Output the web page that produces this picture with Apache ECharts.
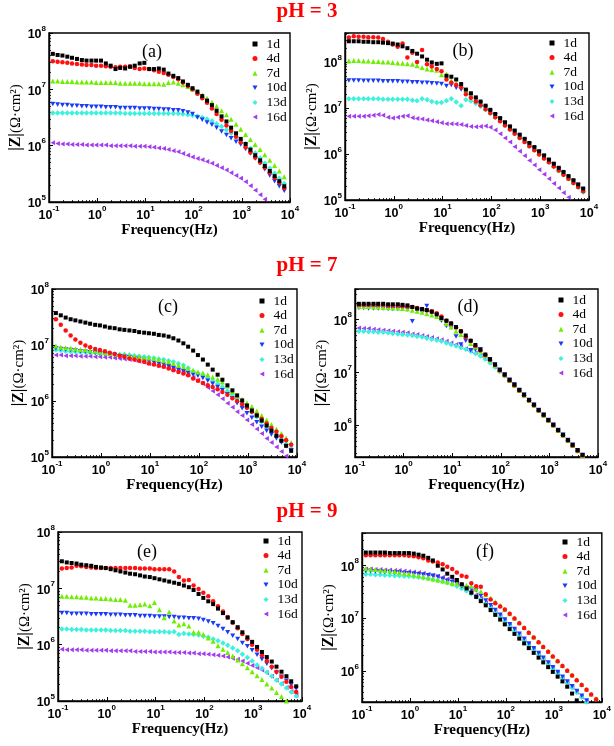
<!DOCTYPE html>
<html>
<head>
<meta charset="utf-8">
<script src="https://cdn.jsdelivr.net/npm/echarts@6/dist/echarts.min.js"></script>
<style>html,body{margin:0;padding:0;background:#fff}#c{width:614px;height:746px}</style>
</head>
<body>
<div id="c"></div>
<script>
// Frequency (Hz), 10 points per decade
const freq = [0.12,0.151,0.19,0.24,0.30,0.38,0.48,0.60,0.76,0.95,1.2,1.51,1.9,2.4,3.0,3.8,4.8,6.0,7.6,9.5,12,15.1,19,24,30,38,48,60,76,95,120,151,190,240,300,380,480,600,760,950,1200,1510,1900,2400,3000,3800,4800,6000,7600];
const seriesNames = ['1d','4d','7d','10d','13d','16d'];
const titles = ['pH = 3','pH = 7','pH = 9'];
const panelLabels = ['(a)','(b)','(c)','(d)','(e)','(f)'];

// log10 |Z| (Ω·cm²)
// (a) pH 3
const a1 = [7.63,7.61,7.60,7.58,7.56,7.54,7.52,7.51,7.51,7.51, 7.51,7.46,7.42,7.36,7.38,7.37,7.40,7.42,7.46,7.47, 7.36,7.36,7.37,7.35,7.28,7.24,7.20,7.14,7.08,7.02, 6.96,6.88,6.80,6.72,6.62,6.52,6.43,6.32,6.22,6.12, 6.03,5.93,5.83,5.74,5.64,5.55,5.46,5.37,5.28];
const a4 = [7.50,7.49,7.48,7.47,7.46,7.45,7.44,7.43,7.43,7.42, 7.42,7.41,7.40,7.39,7.40,7.40,7.41,7.38,7.36,7.37, 7.36,7.34,7.31,7.29,7.26,7.22,7.18,7.12,7.06,7.00, 6.92,6.84,6.76,6.66,6.56,6.46,6.36,6.26,6.16,6.06, 5.97,5.88,5.79,5.70,5.61,5.52,5.43,5.34,5.25];
const a7 = [7.15,7.15,7.14,7.14,7.14,7.13,7.13,7.13,7.13,7.12, 7.12,7.12,7.12,7.12,7.11,7.11,7.11,7.11,7.11,7.10, 7.10,7.10,7.10,7.09,7.12,7.13,7.11,7.08,7.05,7.00, 6.95,6.90,6.84,6.77,6.70,6.62,6.55,6.47,6.38,6.29, 6.20,6.11,6.02,5.93,5.84,5.74,5.65,5.55,5.45];
const a10 = [6.74,6.73,6.72,6.72,6.71,6.71,6.70,6.70,6.69,6.69, 6.69,6.68,6.68,6.68,6.67,6.67,6.67,6.67,6.66,6.66, 6.66,6.65,6.65,6.64,6.64,6.63,6.63,6.61,6.59,6.56, 6.50,6.46,6.41,6.37,6.32,6.25,6.19,6.13,6.07,6.02, 5.94,5.86,5.77,5.69,5.58,5.47,5.37,5.28,5.20];
const a13 = [6.58,6.58,6.58,6.58,6.58,6.58,6.58,6.58,6.58,6.58, 6.58,6.58,6.58,6.58,6.58,6.57,6.57,6.57,6.57,6.57, 6.57,6.57,6.57,6.57,6.57,6.57,6.57,6.56,6.55,6.54, 6.52,6.50,6.47,6.44,6.39,6.34,6.28,6.22,6.16,6.10, 6.04,5.95,5.87,5.78,5.69,5.60,5.51,5.42,5.33];
const a16 = [6.05,6.04,6.03,6.03,6.02,6.02,6.02,6.01,6.01,6.01, 6.01,6.01,6.00,6.00,6.00,6.00,6.00,5.99,5.99,5.99, 5.98,5.97,5.96,5.95,5.93,5.91,5.89,5.86,5.83,5.80, 5.77,5.75,5.72,5.69,5.65,5.61,5.57,5.52,5.47,5.42, 5.36,5.29,5.21,5.13,5.05,4.97,4.89,4.81,4.73];
// (b) pH 3
const b1 = [8.45,8.45,8.45,8.44,8.44,8.43,8.43,8.42,8.41,8.40, 8.38,8.34,8.30,8.24,8.18,8.12,8.05,7.99,7.96,7.97, 7.70,7.68,7.62,7.52,7.40,7.32,7.23,7.14,7.05,6.96, 6.87,6.78,6.69,6.60,6.51,6.42,6.33,6.24,6.15,6.06, 5.97,5.88,5.79,5.70,5.61,5.52,5.43,5.34,5.25];
const b4 = [8.53,8.56,8.55,8.55,8.54,8.54,8.53,8.50,8.44,8.38, 8.33,8.40,8.10,8.20,8.00,8.26,7.95,7.90,7.85,7.80, 7.62,7.55,7.50,7.45,7.30,7.22,7.14,7.06,6.97,6.89, 6.80,6.71,6.62,6.53,6.44,6.35,6.26,6.17,6.08,5.99, 5.90,5.82,5.73,5.64,5.55,5.46,5.37,5.28,5.19];
const b7 = [8.02,8.03,8.03,8.02,8.02,8.01,8.01,8.00,8.00,7.99, 7.98,7.97,7.96,7.95,7.92,7.88,7.85,7.83,7.82,7.72, 7.74,7.60,7.54,7.47,7.38,7.27,7.18,7.10,7.01,6.92, 6.83,6.74,6.65,6.56,6.47,6.38,6.29,6.20,6.11,6.02, 5.93,5.84,5.75,5.66,5.57,5.48,5.39,5.30,5.21];
const b10 = [7.60,7.60,7.60,7.59,7.59,7.59,7.59,7.58,7.58,7.58, 7.58,7.57,7.57,7.56,7.56,7.55,7.55,7.54,7.53,7.52, 7.48,7.50,7.44,7.40,7.36,7.26,7.18,7.10,7.01,6.92, 6.84,6.75,6.66,6.57,6.48,6.39,6.30,6.21,6.12,6.03, 5.94,5.85,5.76,5.67,5.58,5.49,5.40,5.31,5.22];
const b13 = [7.20,7.20,7.20,7.20,7.20,7.20,7.20,7.19,7.19,7.19, 7.19,7.19,7.19,7.17,7.16,7.20,7.18,7.14,7.12,7.12, 7.16,7.20,7.13,7.05,7.18,7.15,7.10,7.03,6.96,6.88, 6.80,6.72,6.63,6.54,6.45,6.36,6.27,6.18,6.09,6.00, 5.91,5.82,5.73,5.64,5.55,5.46,5.37,5.27,5.17];
const b16 = [6.82,6.82,6.82,6.82,6.83,6.84,6.86,6.84,6.80,6.78, 6.80,6.82,6.83,6.79,6.77,6.76,6.74,6.72,6.70,6.68, 6.66,6.66,6.65,6.64,6.62,6.60,6.59,6.60,6.61,6.58, 6.52,6.44,6.35,6.26,6.16,6.06,5.96,5.86,5.76,5.66, 5.56,5.46,5.36,5.26,5.16,5.06,4.96,4.86,4.76];
// (c) pH 7
const c1 = [7.57,7.53,7.49,7.46,7.44,7.42,7.40,7.38,7.36,7.35, 7.33,7.31,7.30,7.28,7.27,7.26,7.25,7.23,7.22,7.21, 7.20,7.18,7.17,7.15,7.12,7.08,7.03,6.97,6.90,6.82, 6.74,6.65,6.56,6.47,6.38,6.28,6.19,6.10,6.01,5.92, 5.83,5.74,5.65,5.56,5.47,5.38,5.29,5.20,5.11];
const c4 = [7.46,7.36,7.26,7.17,7.10,7.04,6.99,6.96,6.93,6.91, 6.89,6.86,6.84,6.81,6.79,6.76,6.74,6.72,6.70,6.67, 6.65,6.63,6.61,6.58,6.55,6.52,6.49,6.46,6.40,6.36, 6.32,6.28,6.25,6.21,6.16,6.11,6.05,6.00,5.94,5.88, 5.81,5.75,5.68,5.60,5.52,5.45,5.37,5.30,5.22];
const c7 = [6.98,6.96,6.95,6.94,6.93,6.92,6.91,6.90,6.89,6.87, 6.86,6.85,6.84,6.83,6.82,6.81,6.80,6.79,6.78,6.77, 6.76,6.74,6.72,6.70,6.67,6.64,6.61,6.58,6.55,6.52, 6.50,6.47,6.43,6.39,6.34,6.27,6.17,6.10,6.03,5.97, 5.90,5.82,5.74,5.66,5.58,5.50,5.42,5.34,5.26];
const c10 = [6.94,6.93,6.92,6.91,6.90,6.89,6.88,6.87,6.86,6.85, 6.84,6.83,6.82,6.80,6.79,6.78,6.76,6.75,6.73,6.71, 6.69,6.67,6.65,6.62,6.59,6.56,6.53,6.50,6.47,6.45, 6.41,6.36,6.31,6.25,6.19,6.12,6.05,5.96,5.87,5.78, 5.70,5.62,5.54,5.47,5.40,5.33,5.26,5.19,5.12];
const c13 = [6.91,6.90,6.89,6.88,6.88,6.87,6.87,6.86,6.86,6.85, 6.85,6.84,6.84,6.83,6.83,6.82,6.81,6.80,6.79,6.78, 6.77,6.75,6.74,6.72,6.70,6.67,6.64,6.59,6.53,6.50, 6.46,6.41,6.36,6.31,6.25,6.18,6.11,6.04,5.96,5.88, 5.80,5.72,5.63,5.55,5.47,5.39,5.31,5.23,5.15];
const c16 = [6.82,6.82,6.81,6.81,6.81,6.80,6.80,6.80,6.79,6.79, 6.78,6.78,6.77,6.76,6.75,6.74,6.73,6.71,6.69,6.67, 6.66,6.64,6.62,6.60,6.57,6.55,6.52,6.47,6.42,6.37, 6.31,6.24,6.18,6.11,6.04,5.96,5.89,5.81,5.74,5.66, 5.58,5.50,5.42,5.33,5.26,5.18,5.10,5.02,4.94];
// (d) pH 7
const d1 = [8.30,8.30,8.30,8.30,8.30,8.30,8.29,8.29,8.29,8.28, 8.27,8.24,8.21,8.20,8.18,8.15,8.10,8.03,7.98,7.93, 7.86,7.78,7.70,7.60,7.52,7.43,7.34,7.25,7.15,7.05, 6.96,6.86,6.77,6.67,6.58,6.48,6.39,6.29,6.20,6.10, 6.01,5.91,5.82,5.72,5.63,5.53,5.44,5.34,5.25];
const d4 = [8.28,8.28,8.28,8.28,8.28,8.28,8.27,8.27,8.27,8.26, 8.25,8.24,8.22,8.20,8.18,8.16,8.12,8.06,7.98,7.92, 7.85,7.78,7.67,7.60,7.50,7.42,7.33,7.24,7.14,7.04, 6.95,6.85,6.76,6.66,6.57,6.47,6.38,6.28,6.19,6.09, 6.00,5.90,5.81,5.71,5.62,5.52,5.43,5.33,5.24];
const d7 = [8.25,8.25,8.25,8.24,8.24,8.23,8.23,8.22,8.22,8.21, 8.20,8.18,8.16,8.14,8.11,8.09,8.06,8.02,7.92,7.86, 7.78,7.72,7.68,7.55,7.48,7.40,7.32,7.23,7.14,7.04, 6.95,6.85,6.76,6.66,6.57,6.47,6.38,6.28,6.19,6.09, 6.00,5.90,5.81,5.71,5.62,5.52,5.43,5.33,5.24];
const d10 = [8.22,8.22,8.21,8.21,8.21,8.21,8.20,8.20,8.20,8.20, 8.19,7.97,8.17,8.14,8.26,8.13,8.08,7.98,7.88,7.85, 7.68,7.53,7.60,7.42,7.43,7.44,7.30,7.25,7.15,7.05, 6.96,6.86,6.77,6.67,6.58,6.48,6.39,6.29,6.20,6.10, 6.01,5.91,5.82,5.72,5.63,5.53,5.44,5.34,5.25];
const d13 = [7.78,7.78,7.77,7.77,7.76,7.76,7.75,7.74,7.73,7.72, 7.71,7.70,7.68,7.67,7.65,7.63,7.61,7.59,7.56,7.53, 7.50,7.47,7.44,7.40,7.36,7.31,7.25,7.18,7.10,7.02, 6.94,6.85,6.76,6.66,6.57,6.47,6.38,6.28,6.19,6.09, 6.00,5.90,5.81,5.71,5.62,5.52,5.43,5.33,5.24];
const d16 = [7.84,7.83,7.83,7.82,7.81,7.80,7.79,7.78,7.77,7.76, 7.75,7.73,7.72,7.70,7.68,7.66,7.64,7.62,7.59,7.56, 7.53,7.49,7.45,7.41,7.37,7.32,7.26,7.19,7.11,7.03, 6.94,6.85,6.76,6.66,6.57,6.47,6.38,6.28,6.19,6.09, 6.00,5.90,5.81,5.71,5.62,5.52,5.43,5.33,5.24];
// (e) pH 9
const e1 = [7.48,7.46,7.45,7.44,7.42,7.41,7.40,7.38,7.37,7.36, 7.34,7.32,7.30,7.28,7.26,7.25,7.23,7.21,7.20,7.18, 7.16,7.14,7.12,7.10,7.08,7.05,7.02,6.97,6.90,6.83, 6.77,6.72,6.64,6.56,6.48,6.40,6.31,6.22,6.13,6.05, 5.96,5.87,5.78,5.70,5.61,5.52,5.44,5.35,5.26];
const e4 = [7.35,7.36,7.37,7.40,7.39,7.38,7.37,7.36,7.36,7.36, 7.36,7.36,7.36,7.36,7.36,7.36,7.35,7.35,7.35,7.34, 7.34,7.34,7.34,7.30,7.20,7.14,7.15,7.05,6.99,6.92, 6.86,6.77,6.68,6.59,6.49,6.39,6.29,6.19,6.10,6.00, 5.91,5.81,5.71,5.61,5.52,5.43,5.34,5.25,5.16];
const e7 = [6.86,6.86,6.85,6.85,6.84,6.84,6.83,6.83,6.82,6.82, 6.81,6.80,6.80,6.79,6.70,6.70,6.71,6.72,6.69,6.75, 6.62,6.48,6.58,6.42,6.35,6.37,6.33,6.22,6.22,6.18, 6.12,6.06,5.98,5.92,5.86,5.80,5.73,5.66,5.59,5.52, 5.45,5.38,5.30,5.23,5.15,5.08,5.00,4.93,4.85];
const e10 = [6.56,6.56,6.55,6.55,6.55,6.55,6.54,6.54,6.54,6.54, 6.53,6.53,6.53,6.52,6.52,6.52,6.51,6.51,6.51,6.50, 6.50,6.50,6.49,6.49,6.48,6.48,6.47,6.47,6.46,6.44, 6.41,6.38,6.33,6.28,6.22,6.16,6.10,6.03,5.97,5.90, 5.82,5.74,5.66,5.58,5.50,5.43,5.36,5.29,5.22];
const e13 = [6.28,6.28,6.27,6.27,6.27,6.26,6.26,6.26,6.26,6.26, 6.25,6.25,6.25,6.25,6.24,6.24,6.24,6.24,6.23,6.23, 6.23,6.23,6.22,6.23,6.18,6.20,6.19,6.18,6.17,6.15, 6.13,6.10,6.07,6.03,5.99,5.94,5.89,5.83,5.77,5.71, 5.64,5.58,5.51,5.44,5.37,5.30,5.23,5.16,5.09];
const e16 = [5.92,5.91,5.91,5.91,5.91,5.90,5.90,5.90,5.90,5.90, 5.89,5.89,5.89,5.89,5.89,5.88,5.88,5.88,5.88,5.87, 5.87,5.87,5.87,5.86,5.86,5.86,5.85,5.85,5.84,5.84, 5.83,5.82,5.81,5.80,5.78,5.76,5.74,5.71,5.67,5.63, 5.59,5.55,5.50,5.44,5.37,5.31,5.24,5.17,5.10];
// (f) pH 9
const f1 = [8.24,8.24,8.24,8.24,8.24,8.23,8.23,8.23,8.23,8.23, 8.22,8.20,8.18,8.14,8.09,7.99,7.92,7.84,7.78,7.72, 7.64,7.56,7.48,7.40,7.32,7.24,7.15,7.06,6.97,6.88, 6.79,6.70,6.61,6.52,6.43,6.34,6.25,6.16,6.07,5.98, 5.89,5.80,5.70,5.57,5.44,5.34,5.24,5.14,5.04];
const f4 = [8.19,8.19,8.19,8.19,8.19,8.19,8.19,8.19,8.19,8.18, 8.17,8.15,8.13,8.09,8.07,8.05,8.02,7.97,7.93,7.86, 7.80,7.78,7.66,7.60,7.59,7.45,7.35,7.28,7.22,7.16, 7.08,6.99,6.90,6.81,6.72,6.63,6.54,6.45,6.36,6.27, 6.18,6.09,6.00,5.91,5.82,5.73,5.64,5.55,5.46];
const f7 = [7.94,7.93,7.92,7.91,7.90,7.89,7.88,7.86,7.85,7.84, 7.82,7.80,7.78,7.76,7.74,7.72,7.70,7.68,7.66,7.65, 7.64,7.62,7.60,7.55,7.50,7.44,7.38,7.31,7.24,7.16, 7.08,7.00,6.91,6.82,6.73,6.64,6.55,6.46,6.37,6.28, 6.19,6.10,6.01,5.92,5.83,5.74,5.65,5.56,5.47];
const f10 = [7.89,7.89,7.88,7.88,7.87,7.87,7.86,7.86,7.85,7.85, 7.84,7.83,7.82,7.81,7.80,7.78,7.74,7.70,7.68,7.66, 7.60,7.57,7.55,7.52,7.42,7.33,7.24,7.15,7.06,6.97, 6.88,6.79,6.70,6.61,6.52,6.43,6.34,6.25,6.16,6.07, 5.98,5.89,5.80,5.71,5.62,5.53,5.44,5.35,5.26];
const f13 = [7.83,7.83,7.82,7.82,7.81,7.81,7.80,7.80,7.79,7.79, 7.78,7.77,7.76,7.75,7.73,7.71,7.69,7.67,7.64,7.60, 7.56,7.51,7.46,7.40,7.34,7.27,7.19,7.11,7.02,6.94, 6.85,6.76,6.67,6.58,6.49,6.40,6.31,6.22,6.13,6.04, 5.95,5.86,5.77,5.68,5.59,5.50,5.41,5.32,5.23];
const f16 = [7.93,7.93,7.92,7.92,7.91,7.91,7.90,7.90,7.89,7.88, 7.87,7.86,7.85,7.83,7.81,7.79,7.77,7.74,7.71,7.67, 7.62,7.57,7.51,7.44,7.37,7.29,7.21,7.12,7.04,6.95, 6.86,6.77,6.68,6.59,6.50,6.41,6.32,6.23,6.14,6.05, 5.96,5.87,5.78,5.69,5.60,5.51,5.42,5.33,5.24];

const colors = ['#000000','#ff1010','#70ee00','#1a3cf8','#3cf2dc','#a33cf0'];
const symbols = ['rect','circle','triangle','path://M0,0 L10,0 L5,9 Z','diamond','path://M9,0 L9,10 L0,5 Z'];
const symSizes = [4,4.5,5,5,5.5,5];

const panels = [
  {data:[a1,a4,a7,a10,a13,a16], grid:[49,33,241,169], y:[5,8],    lab:[152,52], leg:[255,44], ng:18, xg:16},
  {data:[b1,b4,b7,b10,b13,b16], grid:[345,33,244,167], y:[5,8.63], lab:[463,51], leg:[552,43], ng:19, xg:18},
  {data:[c1,c4,c7,c10,c13,c16], grid:[52,289,245,168], y:[5,8],    lab:[168,307], leg:[262,301], ng:22, xg:21},
  {data:[d1,d4,d7,d10,d13,d16], grid:[355,289,243,168], y:[5.40,8.58], lab:[468,307], leg:[561,300], ng:19, xg:21},
  {data:[e1,e4,e7,e10,e13,e16], grid:[58,532,244,169], y:[5,8],    lab:[147,552], leg:[266,541], ng:23, xg:17},
  {data:[f1,f4,f7,f10,f13,f16], grid:[362,533,242,169], y:[5.41,8.61], lab:[485,552], leg:[565,542], ng:22, xg:16}
];

function powLabel(v){
  const l = Math.log10(v);
  const e = Math.round(l);
  if (Math.abs(l - e) > 1e-6) return '';
  return '{b|10}{s|' + e + '}';
}
const richLab = {
  b:{fontFamily:'Liberation Sans', fontWeight:'bold', fontSize:12.5, color:'#000', lineHeight:17, verticalAlign:'bottom'},
  s:{fontFamily:'Liberation Sans', fontWeight:'bold', fontSize:8, color:'#000', lineHeight:17, verticalAlign:'top'}
};

const grids=[], xAxes=[], yAxes=[], series=[], legends=[], graphics=[];
panels.forEach((p, k) => {
  grids.push({left:p.grid[0], top:p.grid[1], width:p.grid[2], height:p.grid[3], show:true, borderColor:'#000', borderWidth:1.4, backgroundColor:'rgba(0,0,0,0)'});
  const common = {
    gridIndex:k, type:'log', logBase:10,
    axisLine:{show:true, lineStyle:{color:'#000', width:1.4}},
    axisTick:{show:true, inside:true, length:4, lineStyle:{color:'#000', width:1}},
    minorTick:{show:true, splitNumber:9, length:2, lineStyle:{color:'#000', width:0.8}},
    splitLine:{show:false},
    axisLabel:{formatter:powLabel, rich:richLab, showMinLabel:true, showMaxLabel:true, hideOverlap:false}
  };
  xAxes.push(Object.assign({}, common, {
    min:0.1, max:1e4, position:'bottom',
    name:'Frequency(Hz)', nameLocation:'middle', nameGap:p.xg,
    nameTextStyle:{fontFamily:'Liberation Serif', fontWeight:'bold', fontSize:15, color:'#000', verticalAlign:'top'},
    axisLabel:Object.assign({}, common.axisLabel, {margin:3})
  }));
  yAxes.push(Object.assign({}, common, {
    min:Math.pow(10,p.y[0]), max:Math.pow(10,p.y[1]), position:'left',
    name:'{z||Z|}{n|(Ω·cm²)}', nameLocation:'middle', nameGap:p.ng, nameRotate:90,
    nameTextStyle:{rich:{
      z:{fontFamily:'Liberation Serif', fontWeight:'bold', fontSize:16, color:'#000'},
      n:{fontFamily:'Liberation Serif', fontSize:15, color:'#000'}
    }},
    axisLabel:Object.assign({}, common.axisLabel, {margin:3})
  }));
  seriesNames.forEach((nm, j) => {
    series.push({
      type:'scatter', name:nm, xAxisIndex:k, yAxisIndex:k, clip:true,
      symbol:symbols[j], symbolSize:symSizes[j], symbolKeepAspect:true,
      itemStyle:{color:colors[j], opacity:1},
      data: freq.map((f, i) => [f, Math.pow(10, p.data[j][i])]),
      z: 10 - j
    });
  });
  legends.push({
    data:seriesNames, orient:'vertical', left:p.leg[0]-2.5, top:p.leg[1]-7,
    itemWidth:5, itemHeight:5, itemGap:0.6, padding:0,
    textStyle:{fontFamily:'Liberation Serif', fontSize:13.5, color:'#000', lineHeight:14, padding:[0,0,0,4]},
    selectedMode:false
  });
  graphics.push({type:'text', x:p.lab[0], y:p.lab[1], style:{text:panelLabels[k], font:'18px "Liberation Serif"', fill:'#000', align:'center', verticalAlign:'middle'}});
});

const option = {
  animation:false,
  backgroundColor:'#fff',
  title:[
    {text:titles[0], left:'center', top:1},
    {text:titles[1], left:'center', top:255},
    {text:titles[2], left:'center', top:501}
  ].map(t => Object.assign(t, {padding:0, textStyle:{color:'#ff0000', fontFamily:'Liberation Serif', fontWeight:'bold', fontSize:21}})),
  grid:grids, xAxis:xAxes, yAxis:yAxes, series:series, legend:legends, graphic:graphics
};
const chart = echarts.init(document.getElementById('c'), null, {renderer:'canvas'});
chart.setOption(option);
</script>
</body>
</html>
